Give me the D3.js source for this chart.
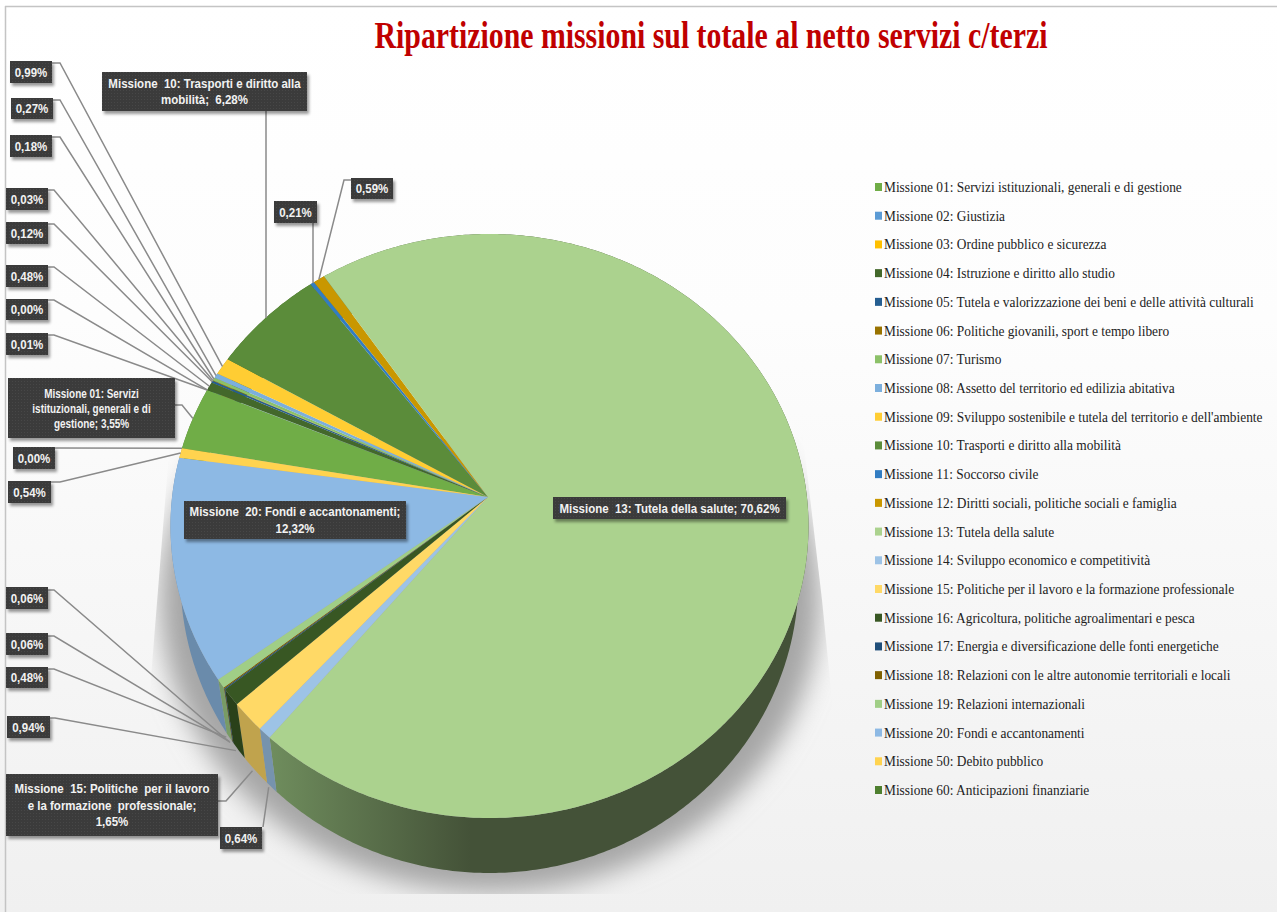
<!DOCTYPE html>
<html><head><meta charset="utf-8">
<script src="https://cdn.jsdelivr.net/npm/d3@7/dist/d3.min.js"></script>
<style>html,body{margin:0;padding:0;background:#fff}svg{display:block}</style></head>
<body><svg id="c" width="1277" height="912"></svg>
<script>
const chartTitle = "Ripartizione missioni sul totale al netto servizi c/terzi";
const categories = ["Missione 01: Servizi istituzionali, generali e di gestione","Missione 02: Giustizia","Missione 03: Ordine pubblico e sicurezza","Missione 04: Istruzione e diritto allo studio","Missione 05: Tutela e valorizzazione dei beni e delle attività culturali","Missione 06: Politiche giovanili, sport e tempo libero","Missione 07: Turismo","Missione 08: Assetto del territorio ed edilizia abitativa","Missione 09: Sviluppo sostenibile e tutela del territorio e dell'ambiente","Missione 10: Trasporti e diritto alla mobilità","Missione 11: Soccorso civile","Missione 12: Diritti sociali, politiche sociali e famiglia","Missione 13: Tutela della salute","Missione 14: Sviluppo economico e competitività","Missione 15: Politiche per il lavoro e la formazione professionale","Missione 16: Agricoltura, politiche agroalimentari e pesca","Missione 17: Energia e diversificazione delle fonti energetiche","Missione 18: Relazioni con le altre autonomie territoriali e locali","Missione 19: Relazioni internazionali","Missione 20: Fondi e accantonamenti","Missione 50: Debito pubblico","Missione 60: Anticipazioni finanziarie"];
const values = [3.55,0.01,0.00,0.48,0.12,0.03,0.18,0.27,0.99,6.28,0.21,0.59,70.62,0.64,1.65,0.94,0.06,0.06,0.48,12.32,0.54,0.00];
const colors = ["#70AD47","#5B9BD5","#FFC000","#43682B","#255E91","#997300","#8CC168","#7CAFDD","#FFCD33","#5B8C3A","#327DC2","#C99700","#ABD28E","#9DC3E6","#FFD966","#385723","#1F4E79","#7F6000","#A0CE86","#8DB9E4","#FFD34F","#4E7F2F"];
// label layout, by category index: box [x0,y0,x1,y1], text lines, leader waypoints before the rim point
const labelLayout = [
 {i:0, box:[8,378,175,438], lines:["Missione 01: Servizi","istituzionali, generali e di","gestione; 3,55%"], via:[[175,405],[182,405]], fs:12, sx:.83, lh:15},
 {i:1, box:[6,333,48,355], via:[[48,335],[54,335]]},
 {i:2, box:[6,299,48,320], via:[[48,300],[54,300]]},
 {i:3, box:[6,265,48,287], via:[[48,267],[54,267]]},
 {i:4, box:[6,222,48,244], via:[[48,224],[54,224]]},
 {i:5, box:[6,188,48,210], via:[[48,190],[54,190]]},
 {i:6, box:[10,135,52,157], via:[[52,137],[60,137]]},
 {i:7, box:[11,98,53,119], via:[[53,100],[60,100]]},
 {i:8, box:[10,61,52,83], via:[[52,63],[60,63]]},
 {i:9, box:[102,72,307,111], lines:["Missione  10: Trasporti e diritto alla","mobilità;  6,28%"], via:[[266,111]], x:266, lh:16.5},
 {i:10, box:[274,201,317,223], via:[[313,223]], x:313},
 {i:11, box:[351,178,393,199], via:[[351,180],[344,180]]},
 {i:12, box:[553,497,786,519], lines:["Missione  13: Tutela della salute; 70,62%"]},
 {i:13, box:[220,827,262,849], via:[[263,827]], side:true},
 {i:14, box:[6,774,218,836], lines:["Missione  15: Politiche  per il lavoro","e la formazione  professionale;","1,65%"], via:[[218,801],[226,801]], side:true, lh:16.5},
 {i:15, box:[7,716,50,738], via:[[50,718],[55,718]], side:true},
 {i:18, box:[6,667,48,688], via:[[48,669],[54,669]], side:true},
 {i:17, box:[6,633,48,655], via:[[48,636],[54,636]], side:true},
 {i:16, box:[6,587,48,609], via:[[48,590],[54,590]], side:true},
 {i:19, box:[184,501,406,539], lines:["Missione  20: Fondi e accantonamenti;","12,32%"], lh:16.5},
 {i:20, box:[8,481,51,503], via:[[51,482],[60,482]]},
 {i:21, box:[13,447,55,469], via:[[55,448]]}
];
const W=1277,H=912;
const svg=d3.select("#c");
const defs=svg.append("defs");
const bg=defs.append("linearGradient").attr("id","bg").attr("x1",0).attr("x2",0).attr("y1",0).attr("y2",1);
bg.append("stop").attr("offset",0).attr("stop-color","#ffffff");
bg.append("stop").attr("offset",.35).attr("stop-color","#fdfdfd");
bg.append("stop").attr("offset",1).attr("stop-color","#f0f0f0");
const blur=defs.append("filter").attr("id","blur").attr("x","-20%").attr("y","-20%").attr("width","140%").attr("height","140%");
blur.append("feGaussianBlur").attr("stdDeviation",13);
const ds=defs.append("filter").attr("id","ds").attr("x","-20%").attr("y","-30%").attr("width","140%").attr("height","170%");
ds.append("feDropShadow").attr("dx",2).attr("dy",3).attr("stdDeviation",1.8).attr("flood-color","#000").attr("flood-opacity",.4);
const pat=defs.append("pattern").attr("id","dots").attr("width",3).attr("height",3).attr("patternUnits","userSpaceOnUse");
pat.append("rect").attr("width",3).attr("height",3).attr("fill","#3a3a3a");
pat.append("rect").attr("width",1).attr("height",1).attr("fill","#474747");
defs.append("clipPath").attr("id","shclip").append("path").attr("d","M170,440L150,690L150,894L835,894L832,700L822,600L803,437Z");
const sg=defs.append("linearGradient").attr("id","side13").attr("gradientUnits","userSpaceOnUse").attr("x1",270).attr("x2",470).attr("y1",0).attr("y2",0);
sg.append("stop").attr("offset",0).attr("stop-color","#6f8d5d");
sg.append("stop").attr("offset",1).attr("stop-color","#445238");

svg.append("rect").attr("width",W).attr("height",H).attr("fill","url(#bg)");
svg.append("line").attr("x1",5.5).attr("x2",5.5).attr("y1",6).attr("y2",H).attr("stroke","#c4c4c4").attr("stroke-width",1.5);
svg.append("line").attr("x1",5).attr("x2",W).attr("y1",6.5).attr("y2",6.5).attr("stroke","#c4c4c4").attr("stroke-width",1.5);

svg.append("text").attr("x",711).attr("y",48).attr("text-anchor","middle")
  .attr("font-family","Liberation Serif").attr("font-weight","bold").attr("font-size",38)
  .attr("textLength",673).attr("lengthAdjust","spacingAndGlyphs").attr("fill","#C00000").text(chartTitle);

// pie geometry: tilted rim ellipses with the apex displaced by the perspective
const apex={x:488,y:497}, face={cx:489.5,cy:526,rx:319,ry:292}, bot={cx:489.5,cy:578,rx:309,ry:295};
const deg=Math.PI/180;
const warp=a=>{let d=a/deg; while(d>180)d-=360; while(d<-180)d+=360;
  const u=1.6*(d+90); return Math.abs(u)<90 ? a+2.6*deg*Math.cos(u*deg) : a;};
const rim=(e,a)=>{const w=warp(a);return [e.cx+e.rx*Math.sin(w), e.cy-e.ry*Math.cos(w)];};
const pie=d3.pie().sort(null).value(d=>d).startAngle(-77*deg).endAngle((360-77)*deg);
const arcs=pie(values);
const lineGen=d3.line();
const angles=(a)=>{const n=Math.max(2,Math.ceil((a.endAngle-a.startAngle)/0.01));return d3.range(n+1).map(k=>a.startAngle+(a.endAngle-a.startAngle)*k/n);};

// shadow
svg.append("g").attr("clip-path","url(#shclip)").append("ellipse")
  .attr("cx",490).attr("cy",600).attr("rx",330).attr("ry",292).attr("fill","#a6a6a6").attr("filter","url(#blur)");
// side walls
svg.append("g").selectAll("path").data(arcs).join("path")
  .attr("d",a=>{const t=angles(a);return lineGen(t.map(x=>rim(face,x)).concat(t.slice().reverse().map(x=>rim(bot,x))))+"Z";})
  .attr("fill",(a,i)=>i===12?"url(#side13)":d3.rgb(colors[i]).darker(.8).formatHex());
// top faces
svg.append("g").selectAll("path").data(arcs).join("path")
  .attr("d",a=>lineGen([[apex.x,apex.y]].concat(angles(a).map(x=>rim(face,x))))+"Z")
  .attr("fill",(a,i)=>colors[i]);

// leaders
const mid=a=>(a.startAngle+a.endAngle)/2;
svg.append("g").selectAll("path").data(labelLayout.filter(l=>l.via)).join("path")
  .attr("d",l=>{const p=rim(l.side?bot:face,mid(arcs[l.i]));
     if(l.side){p[0]-=3;}
     return lineGen(l.via.concat([l.x?[l.x,p[1]]:p]));})
  .attr("fill","none").attr("stroke","#8a8a8a").attr("stroke-width",1.5);

// data labels
const fmt=v=>v.toFixed(2).replace(".",",")+"%";
const lg=svg.append("g");
labelLayout.forEach(l=>{
  const [x0,y0,x1,y1]=l.box;
  const g=lg.append("g");
  g.append("rect").attr("x",x0).attr("y",y0).attr("width",x1-x0).attr("height",y1-y0).attr("fill","url(#dots)").attr("filter","url(#ds)");
  const lines=l.lines||[fmt(values[l.i])];
  const lh=l.lh||0, fs=l.fs||13, sx=l.sx||.885;
  lines.forEach((t,k)=>{
    g.append("text").attr("transform",`translate(${(x0+x1)/2},${(y0+y1)/2+(k-(lines.length-1)/2)*lh+4.5}) scale(${sx},1)`)
     .attr("text-anchor","middle").attr("font-family","Liberation Sans").attr("font-weight","bold")
     .attr("font-size",fs).attr("fill","#f2f2f2").style("white-space","pre").text(t);
  });
});

// legend
const ly=d3.scalePoint().domain(categories).range([187,790]);
const leg=svg.append("g").selectAll("g").data(categories).join("g").attr("transform",d=>`translate(875,${ly(d)})`);
leg.append("rect").attr("x",0).attr("y",-4).attr("width",7).attr("height",8).attr("fill",(d,i)=>colors[i]);
leg.append("text").attr("transform","translate(9,5) scale(.923,1)").attr("font-family","Liberation Serif").attr("font-size",14.5).attr("fill","#222").text(d=>d);
</script></body></html>
